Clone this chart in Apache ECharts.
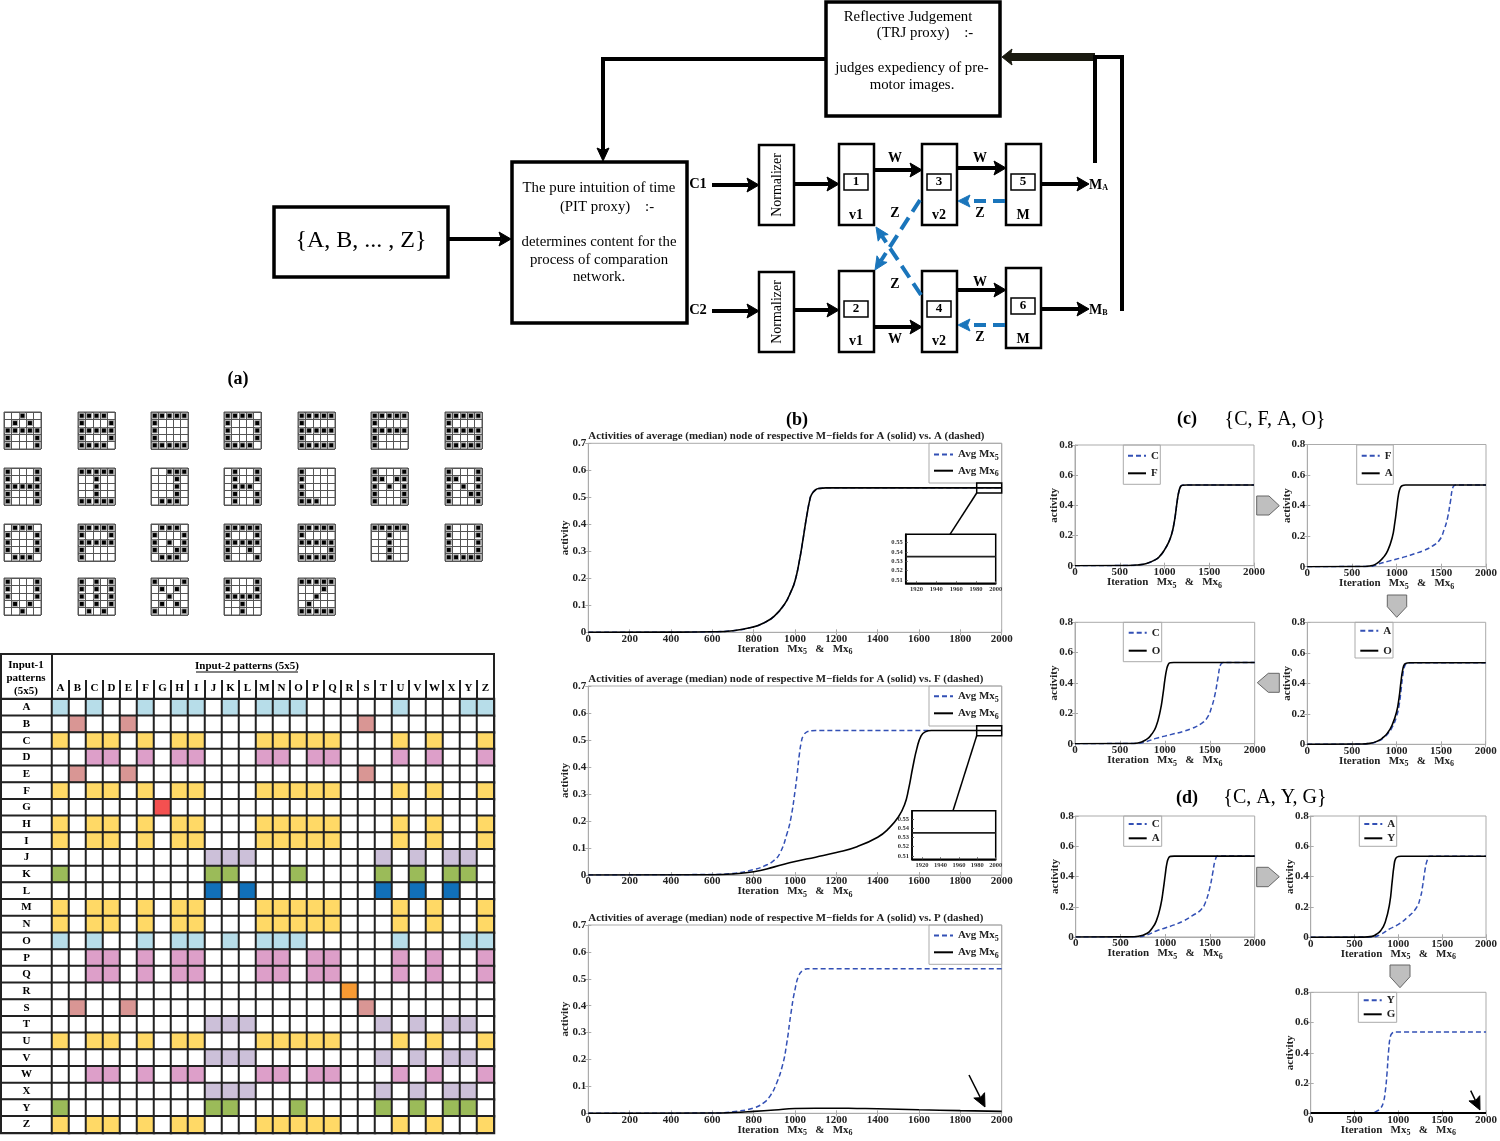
<!DOCTYPE html>
<html><head><meta charset="utf-8">
<style>html,body{margin:0;padding:0;background:#fff}#c{width:1500px;height:1141px}</style>
<script src="https://cdn.jsdelivr.net/npm/echarts@6/dist/echarts.min.js"></script>
</head><body><div id="c"></div>
<script>
// ---------- data ----------
const letters = "ABCDEFGHIJKLMNOPQRSTUVWXYZ".split("");
const patterns = {
 A:["..#..",".#.#.","#####","#...#","#...#"],B:["####.","#...#","#####","#...#","####."],
 C:["#####","#....","#....","#....","#####"],D:["####.","#...#","#...#","#...#","####."],
 E:["#####","#....","#####","#....","#####"],F:["#####","#....","#####","#....","#...."],
 G:["#####","#....","#####","#...#","#####"],H:["#...#","#...#","#####","#...#","#...#"],
 I:["#####","..#..","..#..","..#..","#####"],J:["..###","...#.","...#.","...#.",".###."],
 K:[".#..#",".#..#",".###.",".#..#",".#..#"],L:["#....","#....","#....","#....","###.."],
 M:["#...#","##.##","#.#.#","#...#","#...#"],N:["#...#","##..#","#.#.#","#..##","#...#"],
 O:[".###.","#...#","#...#","#...#",".###."],P:["#####","#...#","#####","#....","#...."],
 Q:[".###.","#...#","#.#.#","#..##",".###."],R:["#####","#...#","#####","#..#.","#...#"],
 S:["#####","#....","#####","....#","#####"],T:["#####","..#..","..#..","..#..","..#.."],
 U:["#...#","#...#","#...#","#...#","#####"],V:["#...#","#...#","#...#",".#.#.","..#.."],
 W:["#.#.#","#.#.#","#.#.#","#.#.#",".#.#."],X:["#...#",".#.#.","..#..",".#.#.","#...#"],
 Y:["#...#","#...#","#####","..#..","..#.."],Z:["#####","...#.","..#..",".#...","#####"]
};
const groupBlue="ACFHIKMNOUYZ", groupRose="BES", groupYellow="ACDFHIMNOPQUWZ", groupPink="CDFHIMNPQUWZ",
      groupLav="JKLTVXY", groupGreen="AJKOTVXY", groupDeep="JLTVX";
const rowMatches = {A:[1,groupBlue],B:[2,groupRose],C:[3,groupYellow],D:[4,groupPink],E:[2,groupRose],F:[3,groupYellow],
 G:[5,"G"],H:[3,groupYellow],I:[3,groupYellow],J:[6,groupLav],K:[7,groupGreen],L:[8,groupDeep],M:[3,groupYellow],
 N:[3,groupYellow],O:[1,groupBlue],P:[4,groupPink],Q:[4,groupPink],R:[9,"R"],S:[2,groupRose],T:[6,groupLav],
 U:[3,groupYellow],V:[6,groupLav],W:[4,groupPink],X:[6,groupLav],Y:[7,groupGreen],Z:[3,groupYellow]};
const classColors = ["#ffffff","#b7dde9","#d99694","#ffd966","#dd9fc9","#f45050","#ccc0d9","#9bbb59","#1170b9","#f79a33"];

const b1Solid=[[0,0],[400,.0005],[600,.002],[700,.006],[800,.02],[850,.035],[900,.06],[950,.105],[980,.15],[1000,.19],[1020,.26],[1040,.35],[1050,.40],[1060,.445],[1070,.485],[1080,.51],[1100,.528],[1120,.533],[1150,.535],[2000,.535]];
const b1Dash=[[0,0],[400,.0005],[600,.002],[700,.006],[800,.02],[850,.035],[900,.06],[950,.105],[980,.15],[1000,.19],[1020,.26],[1040,.35],[1050,.40],[1060,.445],[1070,.485],[1080,.51],[1100,.528],[1120,.533],[1150,.535],[2000,.535]];
const b2Dash=[[0,0],[600,.002],[700,.006],[800,.02],[850,.033],[900,.055],[930,.085],[960,.15],[980,.21],[1000,.31],[1010,.37],[1020,.44],[1030,.49],[1040,.515],[1060,.531],[1080,.534],[1100,.535],[1650,.535]];
const b2Solid=[[0,0],[600,.001],[700,.004],[800,.012],[900,.03],[1000,.05],[1100,.066],[1200,.083],[1300,.105],[1400,.14],[1450,.17],[1500,.215],[1530,.26],[1550,.32],[1570,.40],[1590,.47],[1610,.515],[1630,.53],[1660,.535],[2000,.535]];
const b3Dash=[[0,0],[600,.001],[700,.006],[800,.02],[850,.04],[880,.065],[910,.11],[940,.18],[960,.26],[980,.37],[1000,.46],[1020,.515],[1040,.532],[1060,.537],[2000,.537]];
const b3Solid=[[0,0],[600,.001],[700,.003],[800,.007],[900,.012],[1000,.018],[1100,.019],[1200,.019],[1300,.018],[1400,.017],[1600,.013],[1800,.010],[2000,.007]];
const c1Both=[[0,0],[600,.001],[700,.005],[800,.015],[900,.04],[950,.065],[1000,.105],[1050,.16],[1080,.21],[1100,.26],[1120,.33],[1140,.42],[1160,.49],[1180,.525],[1200,.533],[1250,.535],[2000,.535]];
const c2Solid=[[0,0],[600,.001],[700,.005],[750,.012],[800,.03],[850,.06],[900,.105],[950,.19],[980,.29],[1000,.38],[1020,.47],[1040,.515],[1060,.53],[1100,.535],[2000,.535]];
const c2Dash=[[0,0],[700,.002],[750,.007],[800,.018],[900,.035],[1000,.05],[1100,.066],[1200,.085],[1300,.105],[1400,.135],[1480,.175],[1530,.24],[1570,.32],[1600,.42],[1630,.52],[1660,.535],[2000,.535]];
const c3Solid=[[0,0],[600,.001],[700,.005],[800,.03],[850,.06],[900,.11],[950,.22],[980,.33],[1000,.42],[1020,.49],[1040,.525],[1060,.533],[1100,.535],[2000,.535]];
const c3Dash=[[0,0],[700,.002],[800,.015],[900,.035],[1000,.05],[1100,.065],[1200,.08],[1300,.10],[1400,.13],[1470,.17],[1520,.24],[1560,.33],[1590,.43],[1620,.52],[1650,.535],[2000,.535]];
const c4Solid=[[0,0],[600,.002],[700,.006],[800,.025],[850,.045],[900,.075],[950,.125],[1000,.21],[1030,.31],[1050,.41],[1070,.49],[1090,.525],[1120,.533],[1150,.535],[2000,.535]];
const c4Dash=[[0,0],[600,.002],[700,.006],[800,.022],[850,.04],[900,.068],[950,.11],[1000,.18],[1030,.26],[1050,.35],[1070,.45],[1090,.51],[1120,.532],[1150,.535],[2000,.535]];
const d1Solid=[[0,0],[600,.001],[700,.005],[800,.025],[850,.055],[900,.105],[950,.21],[980,.32],[1000,.41],[1020,.49],[1040,.525],[1060,.533],[1100,.535],[2000,.535]];
const d1Dash=[[0,0],[700,.002],[800,.015],[900,.04],[1000,.06],[1100,.08],[1200,.105],[1300,.14],[1400,.18],[1450,.23],[1500,.33],[1530,.42],[1560,.51],[1590,.535],[2000,.535]];
const d2Solid=[[0,0],[600,.001],[700,.006],[750,.02],[800,.045],[850,.10],[900,.22],[930,.37],[950,.47],[970,.52],[1000,.533],[1030,.535],[2000,.535]];
const d2Dash=[[0,0],[700,.002],[800,.02],[900,.055],[1000,.085],[1100,.13],[1200,.19],[1250,.26],[1280,.35],[1300,.43],[1330,.51],[1360,.535],[2000,.535]];
const d3Dash=[[0,0],[600,.001],[700,.004],[750,.013],[800,.035],[830,.075],[850,.14],[870,.26],[890,.42],[910,.51],[930,.53],[960,.537],[2000,.537]];
const d3Solid=[[0,.002],[2000,.002]];
const insetLine=[[1909,.535],[2000,.535]];
const insetXTicks=[1920,1940,1960,1980,2000];
const insetYTicks=[.51,.52,.53,.54,.55];

// ---------- option scaffolding ----------
const SERIF='"Liberation Serif","Times New Roman",serif';
const option={animation:false,backgroundColor:'#fff',grid:[],xAxis:[],yAxis:[],series:[],legend:[],title:[],visualMap:[],graphic:{elements:[]}};
const G=option.graphic.elements;
const rect=(x,y,w,h,lw=3,fill='#fff',z=5,stroke='#000')=>G.push({type:'rect',z,silent:true,shape:{x,y,width:w,height:h},style:{fill,stroke,lineWidth:lw}});
const text=(s,x,y,size,bold,o={})=>G.push({type:'text',z:o.z||20,silent:true,x,y,rotation:o.rot||0,style:{text:s,font:(bold?'bold ':'')+size+'px '+SERIF,fill:o.fill||'#000',align:o.align||'center',verticalAlign:'middle',rich:o.rich}});
const line=(x1,y1,x2,y2,lw,stroke='#000',z=6)=>G.push({type:'line',z,silent:true,shape:{x1,y1,x2,y2},style:{stroke,lineWidth:lw}});
const poly=(points,fill,stroke,lw=1,z=8)=>G.push({type:'polygon',z,silent:true,shape:{points},style:{fill,stroke:stroke||fill,lineWidth:lw}});
function arrow(pts,lw,color='#000',hl=12,hw=7,dash=null){
  const n=pts.length,[x1,y1]=pts[n-2],[x2,y2]=pts[n-1],d=Math.hypot(x2-x1,y2-y1),ux=(x2-x1)/d,uy=(y2-y1)/d;
  const bx=x2-ux*hl,by=y2-uy*hl,nx=x2-ux*hl*.8,ny=y2-uy*hl*.8;
  G.push({type:'polyline',z:6,silent:true,shape:{points:[...pts.slice(0,n-1),[nx,ny]]},style:{stroke:color,lineWidth:lw,fill:'none',lineDash:dash||undefined}});
  poly([[x2,y2],[bx-uy*hw,by+ux*hw],[nx,ny],[bx+uy*hw,by-ux*hw]],color);
}

// ---------- line plots ----------
const subRich={s:{fontSize:8,fontWeight:'bold',fontFamily:SERIF,color:'#222',padding:[7,0,0,0],lineHeight:12}};
const AXIS='#ababab';
const dashColor='#3350b5';
function addPlot(o){
  const gi=option.grid.length, xi=option.xAxis.length, yi=option.yAxis.length;
  const [l,r,t,b]=o.box;
  option.grid.push({left:l,top:t,width:r-l,height:b-t,show:true,borderColor:AXIS,borderWidth:1,backgroundColor:'#fff',containLabel:false});
  const tick={show:true,inside:true,length:3,lineStyle:{color:AXIS}};
  const lab={fontFamily:SERIF,fontWeight:'bold',fontSize:11,color:'#222'};
  option.xAxis.push({type:'value',gridIndex:gi,min:0,max:2000,interval:o.xStep,splitLine:{show:false},axisLine:{onZero:false,lineStyle:{color:AXIS}},axisTick:tick,
    axisLabel:{...lab,margin:1,hideOverlap:false,showMinLabel:true,showMaxLabel:true,formatter:v=>String(v)},
    name:'Iteration   Mx{s|5}   &   Mx{s|6}',nameLocation:'middle',nameGap:10.5,nameMoveOverlap:false,nameTextStyle:{...lab,color:'#222',verticalAlign:'top',rich:subRich}});
  option.xAxis.push({type:'value',gridIndex:gi,position:'top',min:0,max:2000,interval:o.xStep,splitLine:{show:false},axisLine:{show:false},axisTick:tick,axisLabel:{show:false}});
  option.yAxis.push({type:'value',gridIndex:gi,min:0,max:o.yMax,interval:o.yStep,splitLine:{show:false},axisLine:{onZero:false,lineStyle:{color:AXIS}},axisTick:tick,
    axisLabel:{...lab,margin:2,formatter:v=>v===0?'0':v.toFixed(1)},
    name:'activity',nameLocation:'middle',nameRotate:90,nameGap:o.nameGap||15,nameMoveOverlap:false,nameTextStyle:{...lab,fontSize:11}});
  option.yAxis.push({type:'value',gridIndex:gi,position:'right',min:0,max:o.yMax,interval:o.yStep,splitLine:{show:false},axisLine:{show:false},axisTick:tick,axisLabel:{show:false}});
  const mk=(name,data,dashed)=>({type:'line',name:o.id+'|'+name,data,xAxisIndex:xi,yAxisIndex:yi,symbol:'none',smooth:.5,silent:true,z:dashed?3:4,clip:true,
    lineStyle:{color:dashed?dashColor:'#000',width:dashed?1.5:(o.solidW||1.6),type:dashed?[5,3]:'solid'},itemStyle:{color:dashed?dashColor:'#000'}});
  option.series.push(mk(o.names[0],o.dash,true),mk(o.names[1],o.solid,false));
  // legend
  const [bl,br,bt,bb]=o.legBox;
  rect(bl,bt,br-bl,bb-bt,1,'none',3,AXIS);
  const fmt=n=>{const s=n.split('|')[1];return s.replace(/Mx(\d)/,'Mx{s|$1}');};
  option.legend.push({left:o.legLeft,top:o.legRows[0]-6-(o.legTopAdj||0),orient:'vertical',padding:0,itemWidth:o.legW||18,itemHeight:12,itemGap:Math.max(0,o.legRows[1]-o.legRows[0]-12-(o.legGapAdj||0)),
    data:[o.id+'|'+o.names[0],o.id+'|'+o.names[1]],formatter:fmt,selectedMode:false,
    itemStyle:{color:'transparent',borderColor:'transparent',borderWidth:0},
    textStyle:{fontFamily:SERIF,fontWeight:'bold',fontSize:11,color:'#222',lineHeight:12,rich:subRich}});
  if(o.title) option.title.push({text:o.title,left:l,top:t-13,padding:0,textStyle:{fontFamily:SERIF,fontWeight:'bold',fontSize:10.9,color:'#222',lineHeight:12}});
}
function addInset(box){
  const gi=option.grid.length, xi=option.xAxis.length, yi=option.yAxis.length;
  const [l,r,t,b]=box;
  option.grid.push({left:l,top:t,width:r-l,height:b-t,show:true,borderColor:'#000',borderWidth:1.5,backgroundColor:'#fff',z:10});
  const lab={fontFamily:SERIF,fontWeight:'bold',fontSize:6.5,color:'#333'};
  const tickI={show:true,inside:true,length:2,lineStyle:{color:'#555'}};
  option.xAxis.push({type:'value',gridIndex:gi,min:1909,max:2000,z:11,splitLine:{show:false},axisLine:{onZero:false,lineStyle:{color:'#000',width:1.5}},axisTick:{...tickI,customValues:insetXTicks},axisLabel:{...lab,margin:3,customValues:insetXTicks,formatter:v=>String(v)}});
  option.yAxis.push({type:'value',gridIndex:gi,min:.5064,max:.559,z:11,splitLine:{show:false},axisLine:{onZero:false,lineStyle:{color:'#000',width:1.5}},axisTick:{...tickI,customValues:insetYTicks},axisLabel:{...lab,margin:3,customValues:insetYTicks,formatter:v=>v.toFixed(2)}});
  option.series.push({type:'line',data:insetLine,xAxisIndex:xi,yAxisIndex:yi,symbol:'none',silent:true,z:12,lineStyle:{color:'#222',width:1.6}});
}
const wideX=[588.3,1001.7], bLeg=[929,1001.7];
const avg=['Avg Mx5','Avg Mx6'];
const T='Activities of average (median) node of respective M\u2212fields for A (solid) vs. ';
const bExtra={legLeft:933,legW:19,legGapAdj:4.5,legTopAdj:1,nameGap:18,yMax:.7,yStep:.1,xStep:200,names:avg};
addPlot({...bExtra,id:'b1',box:[...wideX,443.3,632.3],dash:b1Dash,solid:b1Solid,legBox:[...bLeg,443.3,483],legRows:[454,471.7],title:T+'A (dashed)'});
addPlot({...bExtra,id:'b2',box:[...wideX,686,875],dash:b2Dash,solid:b2Solid,legBox:[...bLeg,686,726],legRows:[695.7,714.3],title:T+'F (dashed)'});
addPlot({...bExtra,id:'b3',box:[...wideX,925,1113.3],dash:b3Dash,solid:b3Solid,legBox:[...bLeg,925,964.3],legRows:[935,953.3],title:T+'P (dashed)'});
addInset([905.7,995.7,534.3,583.3]);
addInset([912,995.7,810.7,859.3]);
addPlot({id:'c1',box:[1075,1254,445,565.7],yMax:.8,yStep:.2,xStep:500,dash:c1Both,solid:c1Both,names:['C','F'],legBox:[1123.3,1160.3,445,484.3],legLeft:1127,legRows:[455.7,473.3]});
addPlot({id:'c2',box:[1307.3,1486.3,444.5,566.7],yMax:.8,yStep:.2,xStep:500,dash:c2Dash,solid:c2Solid,names:['F','A'],legBox:[1356.7,1393.3,445,484.3],legLeft:1360.7,legRows:[455.7,473.3]});
addPlot({id:'c3',box:[1075,1254.7,622.3,743.7],yMax:.8,yStep:.2,xStep:500,dash:c3Dash,solid:c3Solid,names:['C','O'],legBox:[1123.3,1161.7,622.3,661.7],legLeft:1127.7,legRows:[632.7,650.7]});
addPlot({id:'c4',box:[1307.3,1485.7,622.3,744.3],yMax:.8,yStep:.2,xStep:500,dash:c4Dash,solid:c4Solid,names:['A','O'],legBox:[1355,1393,622.3,658],legLeft:1359.3,legRows:[630.7,650.7]});
addPlot({id:'d1',box:[1075.7,1254.7,816,937],yMax:.8,yStep:.2,xStep:500,dash:d1Dash,solid:d1Solid,names:['C','A'],legBox:[1123.7,1161.7,816,846.3],legLeft:1127.7,legRows:[824,838.3]});
addPlot({id:'d2',box:[1310.7,1489.3,816,937.3],yMax:.8,yStep:.2,xStep:500,dash:d2Dash,solid:d2Solid,names:['A','Y'],legBox:[1359.3,1396.7,816,846.3],legLeft:1363.3,legRows:[824,838.3]});
addPlot({id:'d3',box:[1310.7,1489.3,992.3,1113.3],yMax:.8,yStep:.2,xStep:500,dash:d3Dash,solid:d3Solid,solidW:2,names:['Y','G'],legBox:[1358.3,1396.7,992.3,1022.3],legLeft:1362.7,legRows:[1000.3,1014.3]});

// ---------- 5x5 glyph grids ----------
const glyphX=[4,78,151,224,298,371,445], glyphY=[412,468,524,578], five=['0','1','2','3','4'];
letters.forEach((ch,i)=>{
  const gi=option.grid.length,xi=option.xAxis.length,yi=option.yAxis.length;
  const cx=glyphX[i%7],cy=glyphY[Math.floor(i/7)];
  option.grid.push({left:cx,top:cy,width:37,height:37,show:true,borderColor:'#555',borderWidth:1,backgroundColor:'#fff'});
  const ax={type:'category',gridIndex:gi,data:five,axisLabel:{show:false},axisTick:{show:false},axisLine:{show:false},splitLine:{show:true,interval:0,lineStyle:{color:'#555',width:1}}};
  option.xAxis.push({...ax});option.yAxis.push({...ax,inverse:true});
  const pts=[];patterns[ch].forEach((row,r)=>[...row].forEach((c,k)=>{if(c==='#')pts.push([k,r]);}));
  option.series.push({type:'scatter',xAxisIndex:xi,yAxisIndex:yi,data:pts,symbol:'rect',symbolSize:5,silent:true,itemStyle:{color:'#000',borderColor:'#b0b0b0',borderWidth:1,opacity:1}});
});

// ---------- table ----------
(function(){
  const gLab=option.grid.length;
  option.grid.push({left:1,top:699,width:51,height:434});
  option.grid.push({left:52,top:699,width:442,height:434});
  const xa=option.xAxis.length,ya=option.yAxis.length;
  option.xAxis.push({type:'category',gridIndex:gLab,data:['row'],axisLabel:{show:false},axisTick:{show:false},axisLine:{show:false}});
  option.yAxis.push({type:'category',gridIndex:gLab,inverse:true,data:letters,axisLabel:{show:false},axisTick:{show:false},axisLine:{show:false}});
  option.xAxis.push({type:'category',gridIndex:gLab+1,position:'top',data:letters,axisLine:{show:false},
    axisTick:{show:true,length:19,lineStyle:{color:'#222',width:2}},
    axisLabel:{interval:0,margin:5,fontFamily:SERIF,fontWeight:'bold',fontSize:11,color:'#000'}});
  option.yAxis.push({type:'category',gridIndex:gLab+1,inverse:true,data:letters,axisLabel:{show:false},axisTick:{show:false},axisLine:{show:false}});
  const si=option.series.length;
  const rowCells=letters.map((l,r)=>[0,r,0]);
  const cells=[];letters.forEach((rowL,r)=>{const [cls,set]=rowMatches[rowL];letters.forEach((colL,c)=>cells.push([c,r,set.includes(colL)?cls:0]));});
  const cellStyle={borderColor:'#222',borderWidth:2};
  option.series.push({type:'heatmap',xAxisIndex:xa,yAxisIndex:ya,data:rowCells,silent:true,itemStyle:cellStyle,
    label:{show:true,formatter:p=>letters[p.data[1]],fontFamily:SERIF,fontWeight:'bold',fontSize:11,color:'#000'}});
  option.series.push({type:'heatmap',xAxisIndex:xa+1,yAxisIndex:ya+1,data:cells,silent:true,itemStyle:cellStyle});
  option.visualMap.push({type:'piecewise',show:false,dimension:2,seriesIndex:[si,si+1],pieces:classColors.map((color,value)=>({value,color}))});
  rect(1,654,493,479,2,'none',15,'#222');
  line(52,654,52,699,2,'#222',15);
  line(1,699,52,699,2,'#222',15);
  line(52,699,494,699,2,'#222',15);
  text('Input-1',26,665,11,true);text('patterns',26,678,11,true);text('(5x5)',26,691,11,true);
  text('Input-2 patterns (5x5)',247,666,11,true);
  line(196,672,298,672,1,'#000',15);
})();

// ---------- block diagram ----------
rect(274,207,174,70,3.5);
rect(512,162,175,161,3.5);
rect(826,2,174,114,3.5);
[[759,145],[759,272]].forEach(([x,y])=>rect(x,y,35,80,2.5));
[[839,144],[922,144],[1006,144],[839,271],[922,271]].forEach(([x,y])=>rect(x,y,35,81,2.5));
rect(1006,268,35,80,2.5);
[[844,174,'1'],[927,174,'3'],[1011,174,'5'],[844,301,'2'],[927,301,'4'],[1011,298,'6']].forEach(([x,y,s])=>{rect(x,y,24,16,1.5,'#fff',7);text(s,x+12,y+8,13,true);});
text('{A, B, ... , Z}',361,241,24,false);
['The pure intuition of time',,'determines content for the','process of comparation','network.'].forEach((s,i)=>{if(s)text(s,599,[188,0,242,260,277][i],14.8,false);});
text('(PIT proxy)    :-',607,207,14.8,false);
text('Reflective Judgement',908,17,14.8,false);text('(TRJ proxy)    :-',925,33,14.8,false);
text('judges expediency of pre-',912,68,14.8,false);text('motor images.',912,85,14.8,false);
text('Normalizer',777,185,14,false,{rot:Math.PI/2});text('Normalizer',777,312,14,false,{rot:Math.PI/2});
text('C1',698,184,14.5,true);text('C2',698,310,14.5,true);
[[895,158,'W'],[980,158,'W'],[895,339,'W'],[980,282,'W'],[895,213,'Z'],[980,213,'Z'],[895,284,'Z'],[980,337,'Z'],
 [856,215,'v1'],[939,215,'v2'],[1023,215,'M'],[856,341,'v1'],[939,341,'v2'],[1023,339,'M']].forEach(([x,y,s])=>text(s,x,y,14,true));
const subD={u:{font:'bold 8px '+SERIF,padding:[6,0,0,0]},m:{font:'bold 14px '+SERIF}};
text('{m|M}{u|A}',1089,185,14,true,{align:'left',rich:subD});text('{m|M}{u|B}',1089,310,14,true,{align:'left',rich:subD});
arrow([[448,239],[511,239]],4);
arrow([[826,59],[603,59],[603,161]],4,'#000',13,6);
arrow([[712,185],[759,185]],4);arrow([[712,311],[759,311]],4);
arrow([[794,184],[839,184]],4);arrow([[794,310],[839,310]],4);
arrow([[874,170],[922,170]],4);arrow([[957,168],[1006,168]],4);
arrow([[874,327],[922,327]],4);arrow([[957,290],[1006,290]],4);
arrow([[1041,184],[1089,184]],4);arrow([[1041,309],[1089,309]],4);
arrow([[1095,57],[1002,57]],8,'#1a1a10',10,8);
G.push({type:'polyline',z:6,silent:true,shape:{points:[[1095,163],[1095,57],[1122,57],[1122,311]]},style:{stroke:'#000',lineWidth:4,fill:'none'}});
const BLUE='#1a75bb';
arrow([[1005,201],[958,201]],4,BLUE,12,6,[12,7]);
arrow([[1005,325],[958,325]],4,BLUE,12,6,[12,7]);
arrow([[920,200],[875,270]],4,BLUE,13,6,[14,7]);
arrow([[921,295],[876,227]],4,BLUE,13,6,[14,7]);

// ---------- panel labels and block arrows ----------
text('(a)',238,379,18,true);text('(b)',797,420,18,true);
text('(c)',1187,419,18,true);text('{C, F, A, O}',1275,420,20,false);
text('(d)',1187,798,18,true);text('{C, A, Y, G}',1275,798,20,false);
rect(976.7,483,25,10,1.5,'none',9);line(976.7,493,950,534.3,1.5);
rect(976.7,725.7,25,10,1.5,'none',9);line(976.7,735.7,953,810.7,1.5);
const GR='#bfbfbf',GS='#666';
poly([[1256.7,496],[1269,496],[1279.3,505.7],[1269,515],[1256.7,515]],GR,GS);
poly([[1387.3,595],[1406.7,595],[1406.7,606.7],[1396.7,617.3],[1387.3,606.7]],GR,GS);
poly([[1279.3,673.3],[1268.3,673.3],[1257.3,682.7],[1268.3,692.3],[1279.3,692.3]],GR,GS);
poly([[1256.7,867.3],[1268.3,867.3],[1279.3,876.7],[1268.3,886.7],[1256.7,886.7]],GR,GS);
poly([[1390,965],[1410,965],[1410,976.7],[1400,987.7],[1390,976.7]],GR,GS);
arrow([[969,1075],[985,1107]],1.5,'#000',13,6);
arrow([[1470.7,1090.7],[1480,1110]],1.5,'#000',13,6);

const chart=echarts.init(document.getElementById('c'),null,{renderer:'canvas',width:1500,height:1141});
chart.setOption(option);
</script></body></html>
